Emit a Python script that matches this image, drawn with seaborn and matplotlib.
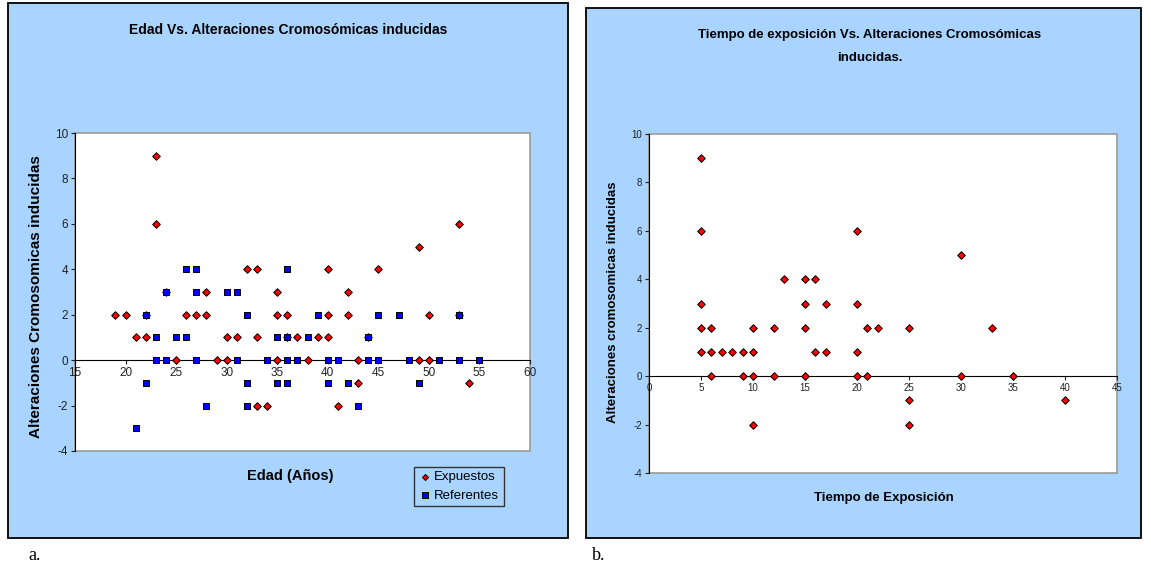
import matplotlib
matplotlib.use("Agg")
import matplotlib.pyplot as plt
from matplotlib.patches import Rectangle
import seaborn as sns

# chart a: age vs induced chromosome alterations
edad_exp = [19, 20, 21, 22, 22, 23, 23, 24, 25, 26, 27, 28, 28, 29, 30, 30, 31, 32, 33, 33,
            33, 34, 35, 35, 35, 36, 36, 37, 38, 39, 40, 40, 40, 41, 42, 42, 43, 43, 44, 45,
            49, 49, 50, 50, 53, 53, 54]
alt_exp = [2, 2, 1, 1, 2, 9, 6, 3, 0, 2, 2, 2, 3, 0, 0, 1, 1, 4, 4, 1,
           -2, -2, 3, 2, 0, 2, 1, 1, 0, 1, 1, 2, 4, -2, 3, 2, 0, -1, 1, 4,
           5, 0, 0, 2, 6, 2, -1]

edad_ref = [21, 22, 22, 23, 23, 24, 24, 25, 26, 26, 27, 27, 27, 28, 30, 31, 31, 32, 32, 32,
            34, 35, 35, 36, 36, 36, 36, 37, 38, 39, 40, 40, 41, 42, 43, 44, 44, 45, 45, 47,
            48, 49, 51, 53, 53, 55]
alt_ref = [-3, 2, -1, 1, 0, 3, 0, 1, 1, 4, 4, 3, 0, -2, 3, 3, 0, 2, -1, -2,
           0, 1, -1, 4, 1, 0, -1, 0, 1, 2, 0, -1, 0, -1, -2, 1, 0, 2, 0, 2,
           0, -1, 0, 2, 0, 0]

# chart b: exposure time vs induced chromosome alterations
tiempo = [5, 5, 5, 5, 5, 6, 6, 6, 7, 8, 9, 9, 10, 10, 10, 10, 12, 12, 13, 15,
          15, 15, 15, 16, 16, 17, 17, 20, 20, 20, 20, 21, 21, 22, 25, 25, 25, 30, 30, 33,
          35, 40]
alt_tiempo = [9, 6, 3, 2, 1, 2, 1, 0, 1, 1, 1, 0, 2, 1, 0, -2, 2, 0, 4, 4,
              3, 2, 0, 4, 1, 3, 1, 6, 3, 1, 0, 2, 0, 2, 2, -1, -2, 5, 0, 2,
              0, -1]

x_ticks_a = [15, 20, 25, 30, 35, 40, 45, 50, 55, 60]
x_ticks_b = [0, 5, 10, 15, 20, 25, 30, 35, 40, 45]
y_ticks = [-4, -2, 0, 2, 4, 6, 8, 10]

BG = "#A8D4FF"
W, H = 1151, 577

plt.rcParams["font.family"] = ["Liberation Sans", "DejaVu Sans"]
plt.rcParams["axes.unicode_minus"] = False
fig = plt.figure(figsize=(W / 100, H / 100), dpi=100)


def fbox(x0, y0, x1, y1):
    # pixel box (top-left origin) -> figure fraction rect
    return [x0 / W, 1 - y1 / H, (x1 - x0) / W, (y1 - y0) / H]


for bx in (fbox(8, 3, 568, 538), fbox(586, 8, 1141, 538)):
    fig.patches.append(Rectangle((bx[0], bx[1]), bx[2], bx[3], transform=fig.transFigure,
                                 facecolor=BG, edgecolor="black", linewidth=1.3, zorder=-5))


def style_axes(ax, xlim, xticks, fs):
    ax.set_zorder(2)
    ax.set_facecolor("white")
    ax.set_xlim(*xlim)
    ax.set_ylim(-4, 10)
    ax.set_xticks(xticks)
    ax.set_yticks(y_ticks)
    ax.tick_params(labelsize=fs, length=3, width=0.8, colors="#222222", pad=2)
    for s in ("top", "right"):
        ax.spines[s].set_visible(False)
    ax.spines["left"].set_color("black")
    ax.spines["bottom"].set_position(("data", 0))
    ax.spines["bottom"].set_color("black")
    ax.add_patch(Rectangle((0, 0), 1, 1, transform=ax.transAxes, fill=False,
                           edgecolor="#9a9a9a", linewidth=1.2, clip_on=False, zorder=0))
    ax.set_xlabel("")
    ax.set_ylabel("")


# ---- chart a ----
ax1 = fig.add_axes(fbox(75, 133, 530, 451))
sns.scatterplot(x=edad_exp, y=alt_exp, marker="D", color="red", edgecolor="black",
                linewidth=0.7, s=15, ax=ax1, label="Expuestos", zorder=3)
sns.scatterplot(x=edad_ref, y=alt_ref, marker="s", color="#0000FF", edgecolor="black",
                linewidth=0.7, s=24, ax=ax1, label="Referentes", zorder=4)
style_axes(ax1, (15, 60), x_ticks_a, 8.5)
leg = ax1.legend(loc="upper left", bbox_to_anchor=(407 / W, 1 - 460 / H),
                 bbox_transform=fig.transFigure, frameon=True, fancybox=False,
                 fontsize=9.5, handletextpad=0.2, handlelength=1.0, borderpad=0.35,
                 labelspacing=0.45, markerscale=0.8)
leg.get_frame().set_facecolor(BG)
leg.get_frame().set_edgecolor("#333333")
leg.get_frame().set_alpha(1)

fig.text(288 / W, 1 - 30 / H, "Edad Vs. Alteraciones Cromosómicas inducidas",
         ha="center", va="center", fontsize=10, fontweight="bold")
fig.text(290 / W, 1 - 476 / H, "Edad (Años)", ha="center", va="center",
         fontsize=10.5, fontweight="bold")
fig.text(36 / W, 1 - 297 / H, "Alteraciones Cromosomicas inducidas", ha="center",
         va="center", rotation=90, fontsize=11, fontweight="bold")

# ---- chart b ----
ax2 = fig.add_axes(fbox(649, 134, 1117, 473))
sns.scatterplot(x=tiempo, y=alt_tiempo, marker="D", color="red", edgecolor="black",
                linewidth=0.7, s=15, ax=ax2, zorder=3, legend=False)
style_axes(ax2, (0, 45), x_ticks_b, 7)

fig.text(870 / W, 1 - 35 / H, "Tiempo de exposición Vs. Alteraciones Cromosómicas",
         ha="center", va="center", fontsize=9.5, fontweight="bold")
fig.text(870 / W, 1 - 58 / H, "inducidas.", ha="center", va="center",
         fontsize=9.5, fontweight="bold")
fig.text(884 / W, 1 - 498 / H, "Tiempo de Exposición", ha="center", va="center",
         fontsize=9.5, fontweight="bold")
fig.text(613 / W, 1 - 302 / H, "Alteraciones cromosomicas inducidas", ha="center",
         va="center", rotation=90, fontsize=9.5, fontweight="bold")

# panel letters
fig.text(28 / W, 1 - 555 / H, "a.", ha="left", va="center", fontsize=13,
         family=["Liberation Serif", "DejaVu Serif"])
fig.text(592 / W, 1 - 555 / H, "b.", ha="left", va="center", fontsize=13,
         family=["Liberation Serif", "DejaVu Serif"])

fig.savefig("out.png", dpi=100)
